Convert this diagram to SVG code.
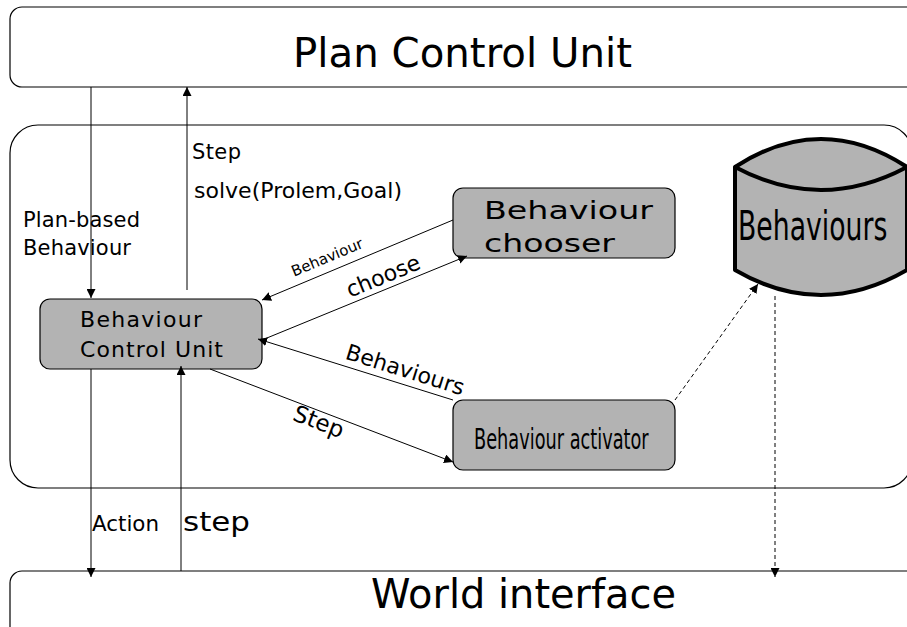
<svg xmlns="http://www.w3.org/2000/svg" width="907" height="627" viewBox="0 0 907 627">
<defs>
<style>
.box{fill:#ffffff;stroke:#000;stroke-width:1.2}
.node{fill:#b3b3b3;stroke:#000;stroke-width:1.2}
.c{font-family:"DejaVu Sans",sans-serif;fill:#000}
.n{font-family:"DejaVu Sans",sans-serif;fill:#000}
.ln{fill:none;stroke:#000;stroke-width:1}
.dash{fill:none;stroke:#000;stroke-width:1;stroke-dasharray:4,3}
</style>
<marker id="ah" viewBox="0 0 10 10" refX="10" refY="5" markerWidth="9" markerHeight="9" markerUnits="userSpaceOnUse" orient="auto">
<path d="M0,0 L10,5 L0,10 z" fill="#000"/>
</marker>
</defs>
<rect width="907" height="627" fill="#fff"/>
<g id="plan-control-unit">
<rect class="box" x="10" y="7" width="910" height="80" rx="12"/>
<text class="c" x="293" y="67" font-size="40" textLength="339" lengthAdjust="spacingAndGlyphs">Plan Control Unit</text>
</g>
<g id="container">
<rect class="box" x="10" y="125" width="902" height="363" rx="28"/>
</g>
<g id="world-interface">
<rect class="box" x="10" y="571" width="910" height="80" rx="12"/>
<text class="c" x="371" y="608" font-size="41" textLength="305" lengthAdjust="spacingAndGlyphs">World interface</text>
</g>
<g id="behaviour-control-unit">
<rect class="node" x="40" y="299" width="222" height="70" rx="10"/>
<text class="n" x="80" y="327" font-size="22" textLength="122">Behaviour</text>
<text class="n" x="80" y="357" font-size="22" textLength="143">Control Unit</text>
</g>
<g id="behaviour-chooser">
<rect class="node" x="453" y="188" width="222" height="70" rx="10"/>
<text class="n" x="484" y="219" font-size="24" textLength="169" lengthAdjust="spacingAndGlyphs">Behaviour</text>
<text class="n" x="484" y="252" font-size="24" textLength="131" lengthAdjust="spacingAndGlyphs">chooser</text>
</g>
<g id="behaviour-activator">
<rect class="node" x="453" y="400" width="222" height="70" rx="10"/>
<text class="c" font-size="29" transform="translate(474,449) scale(0.612,1)">Behaviour activator</text>
</g>
<g id="behaviours">
<path d="M735,167 Q821,111 907,167 L907,270 Q821,320 735,270 Z" fill="#b3b3b3" stroke="#000" stroke-width="4" stroke-linejoin="round"/>
<path d="M735,167 Q821,213 907,167" fill="none" stroke="#000" stroke-width="4"/>
<text class="c" font-size="40" transform="translate(738,240) scale(0.668,1)">Behaviours</text>
</g>
<g id="connectors">
<line class="ln" x1="91" y1="87" x2="91" y2="298" marker-end="url(#ah)"/>
<line class="ln" x1="187" y1="290" x2="187" y2="87" marker-end="url(#ah)"/>
<line class="ln" x1="453" y1="220" x2="262" y2="300" marker-end="url(#ah)"/>
<line class="ln" x1="262" y1="340" x2="467" y2="256" marker-end="url(#ah)"/>
<line class="ln" x1="453" y1="400" x2="258" y2="339" marker-end="url(#ah)"/>
<line class="ln" x1="210" y1="369" x2="453" y2="462" marker-end="url(#ah)"/>
<line class="dash" x1="675" y1="400" x2="758" y2="284" marker-end="url(#ah)"/>
<line class="dash" x1="775" y1="296" x2="775" y2="577" marker-end="url(#ah)"/>
<line class="ln" x1="91" y1="369" x2="91" y2="577" marker-end="url(#ah)"/>
<line class="ln" x1="181" y1="571" x2="181" y2="366" marker-end="url(#ah)"/>
</g>
<g id="labels">
<text class="n" x="192" y="159" font-size="21" textLength="49">Step</text>
<text class="n" x="194" y="198" font-size="22" textLength="208">solve(Prolem,Goal)</text>
<text class="n" x="23" y="227" font-size="21" textLength="117">Plan-based</text>
<text class="n" x="23" y="255" font-size="21" textLength="108">Behaviour</text>
<text class="n" font-size="15" text-anchor="middle" transform="translate(329,262) rotate(-22.7)">Behaviour</text>
<text class="n" font-size="22" text-anchor="middle" transform="translate(386,283) rotate(-22.3)">choose</text>
<text class="n" font-size="22" text-anchor="middle" transform="translate(403,377) rotate(17.4)">Behaviours</text>
<text class="n" font-size="23" text-anchor="middle" transform="translate(316,429) rotate(20.9)">Step</text>
<text class="c" x="92" y="531" font-size="22" textLength="67" lengthAdjust="spacingAndGlyphs">Action</text>
<text class="c" x="183" y="531" font-size="26" textLength="67" lengthAdjust="spacingAndGlyphs">step</text>
</g>
</svg>
